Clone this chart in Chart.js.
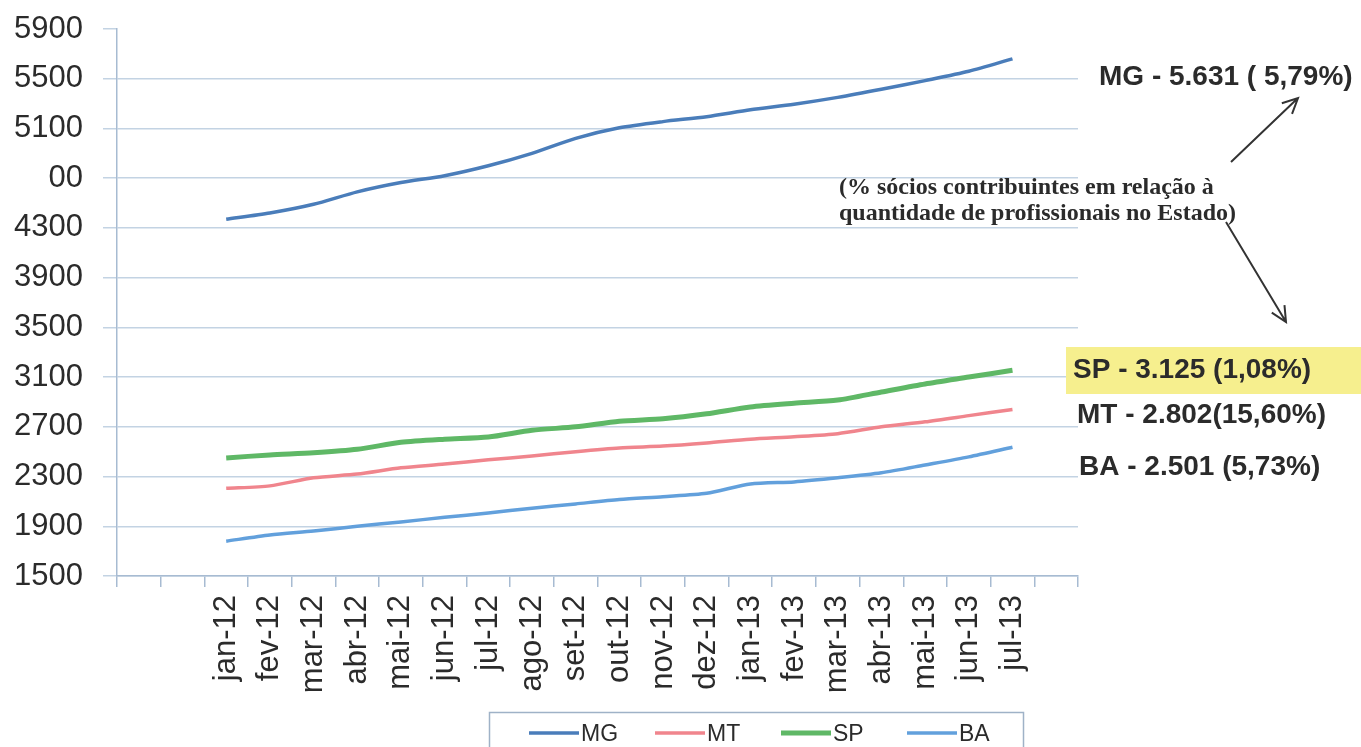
<!DOCTYPE html>
<html>
<head>
<meta charset="utf-8">
<script src="https://cdn.jsdelivr.net/npm/chart.js@4"></script>
<style>
    body { margin: 0; background: #fff; }
    #wrap { width: 1361px; height: 747px; }
</style>
</head>
<body>
<div id="wrap"><canvas id="chart" width="1361" height="747"></canvas></div>
<script>
// categories: two empty slots before, one after (as in the original sheet)
const months = ['jan-12', 'fev-12', 'mar-12', 'abr-12', 'mai-12', 'jun-12', 'jul-12', 'ago-12', 'set-12', 'out-12',
    'nov-12', 'dez-12', 'jan-13', 'fev-13', 'mar-13', 'abr-13', 'mai-13', 'jun-13', 'jul-13'];
const categories = ['', '', ...months, ''];

const mgValues = [4370, 4420, 4490, 4590, 4665, 4720, 4800, 4900, 5020, 5105, 5155, 5195, 5250, 5295, 5350, 5415, 5485, 5560, 5660];
const mtValues = [2205, 2225, 2290, 2320, 2370, 2400, 2435, 2465, 2500, 2530, 2545, 2570, 2600, 2620, 2645, 2700, 2740, 2790, 2840];
const spValues = [2450, 2474, 2492, 2520, 2575, 2600, 2618, 2672, 2700, 2745, 2765, 2805, 2860, 2890, 2915, 2980, 3045, 3100, 3155];
const baValues = [1780, 1830, 1862, 1900, 1935, 1972, 2007, 2045, 2080, 2115, 2138, 2165, 2240, 2257, 2290, 2330, 2393, 2458, 2535];

const yMin = 1500, yMax = 5900, yStep = 400;

function pad(arr) {
    return [null, null, ...arr, null];
}

const axisColor = '#a7bbd2';
const gridColor = '#c3d3e3';
const textColor = '#2b2b2b';

function drawArrow(ctx, x1, y1, x2, y2) {
    const ang = Math.atan2(y2 - y1, x2 - x1);
    const head = 17;
    ctx.beginPath();
    ctx.moveTo(x1, y1);
    ctx.lineTo(x2, y2);
    ctx.moveTo(x2 - head * Math.cos(ang - 0.45), y2 - head * Math.sin(ang - 0.45));
    ctx.lineTo(x2, y2);
    ctx.lineTo(x2 - head * Math.cos(ang + 0.45), y2 - head * Math.sin(ang + 0.45));
    ctx.stroke();
}

// legend box at the bottom (cut by the page edge, like the scan)
const boxLegend = {
    id: 'boxLegend',
    afterDraw(chart) {
        const ctx = chart.ctx;
        ctx.save();
        ctx.strokeStyle = '#9fb2c7';
        ctx.lineWidth = 1.5;
        ctx.strokeRect(489.5, 712.5, 534, 60);
        ctx.font = '23px "Liberation Sans", Arial, sans-serif';
        ctx.textBaseline = 'middle';
        ctx.fillStyle = textColor;
        chart.data.datasets.forEach((ds, i) => {
            const x = 529 + i * 126;
            ctx.strokeStyle = ds.borderColor;
            ctx.lineWidth = ds.borderWidth;
            ctx.beginPath();
            ctx.moveTo(x, 733);
            ctx.lineTo(x + 50, 733);
            ctx.stroke();
            ctx.fillText(ds.label, x + 52, 735);
        });
        ctx.restore();
    }
};

// side notes and arrows
const notes = {
    id: 'notes',
    afterDraw(chart) {
        const ctx = chart.ctx;
        ctx.save();
        ctx.fillStyle = '#f6ef8e';
        ctx.fillRect(1066, 347, 295, 47);

        ctx.fillStyle = textColor;
        ctx.textBaseline = 'middle';
        ctx.font = 'bold 28px "Liberation Sans", Arial, sans-serif';
        ctx.fillText('MG - 5.631 ( 5,79%)', 1099, 77);
        ctx.fillText('SP - 3.125 (1,08%)', 1073, 370);
        ctx.fillText('MT - 2.802(15,60%)', 1077, 415);
        ctx.fillText('BA - 2.501 (5,73%)', 1079, 467);

        ctx.font = 'bold 24px "Liberation Serif", "Times New Roman", serif';
        ctx.fillText('(% sócios contribuintes em relação à', 839, 188);
        ctx.fillText('quantidade de profissionais no Estado)', 839, 214);

        ctx.strokeStyle = '#333';
        ctx.lineWidth = 2;
        drawArrow(ctx, 1231, 162, 1298, 98);
        drawArrow(ctx, 1226, 222, 1286, 322);
        ctx.restore();
    }
};

const ctx = document.getElementById('chart').getContext('2d');
new Chart(ctx, {
    type: 'line',
    data: {
        labels: categories,
        datasets: [
            { label: 'MG', data: pad(mgValues), borderColor: '#4a7dba', borderWidth: 3.5 },
            { label: 'MT', data: pad(mtValues), borderColor: '#f0858d', borderWidth: 3.5 },
            { label: 'SP', data: pad(spValues), borderColor: '#5fb866', borderWidth: 5 },
            { label: 'BA', data: pad(baValues), borderColor: '#62a0dc', borderWidth: 3.5 }
        ]
    },
    options: {
        responsive: false,
        animation: false,
        elements: {
            point: { radius: 0 },
            line: { tension: 0.25 }
        },
        layout: { padding: { left: 0, top: 29, right: 283, bottom: 0 } },
        plugins: {
            legend: { display: false },
            tooltip: { enabled: false }
        },
        scales: {
            x: {
                offset: true,
                grid: { offset: true, drawOnChartArea: false, color: axisColor, tickLength: 11, lineWidth: 1.5 },
                border: { color: axisColor, width: 1.5 },
                ticks: {
                    autoSkip: false,
                    minRotation: 90,
                    maxRotation: 90,
                    padding: 8,
                    color: textColor,
                    font: { family: '"Liberation Sans", Arial, sans-serif', size: 31 }
                },
                afterFit(scale) {
                    scale.height = 171;
                    scale.paddingLeft = 0;
                    scale.paddingRight = 0;
                }
            },
            y: {
                min: yMin,
                max: yMax,
                grid: {
                    color: c => (c.tick && c.tick.value === yMax) ? 'rgba(0,0,0,0)' : gridColor,
                    tickColor: gridColor,
                    tickLength: 14,
                    lineWidth: 1.5
                },
                border: { color: axisColor, width: 1.5 },
                ticks: {
                    stepSize: yStep,
                    padding: 20,
                    color: textColor,
                    font: { family: '"Liberation Sans", Arial, sans-serif', size: 31 },
                    callback: v => (v === 4700 ? '00' : String(v))
                },
                afterFit(scale) {
                    scale.width = 117;
                    scale.paddingTop = 0;
                    scale.paddingBottom = 0;
                }
            }
        }
    },
    plugins: [boxLegend, notes]
});
</script>
</body>
</html>
